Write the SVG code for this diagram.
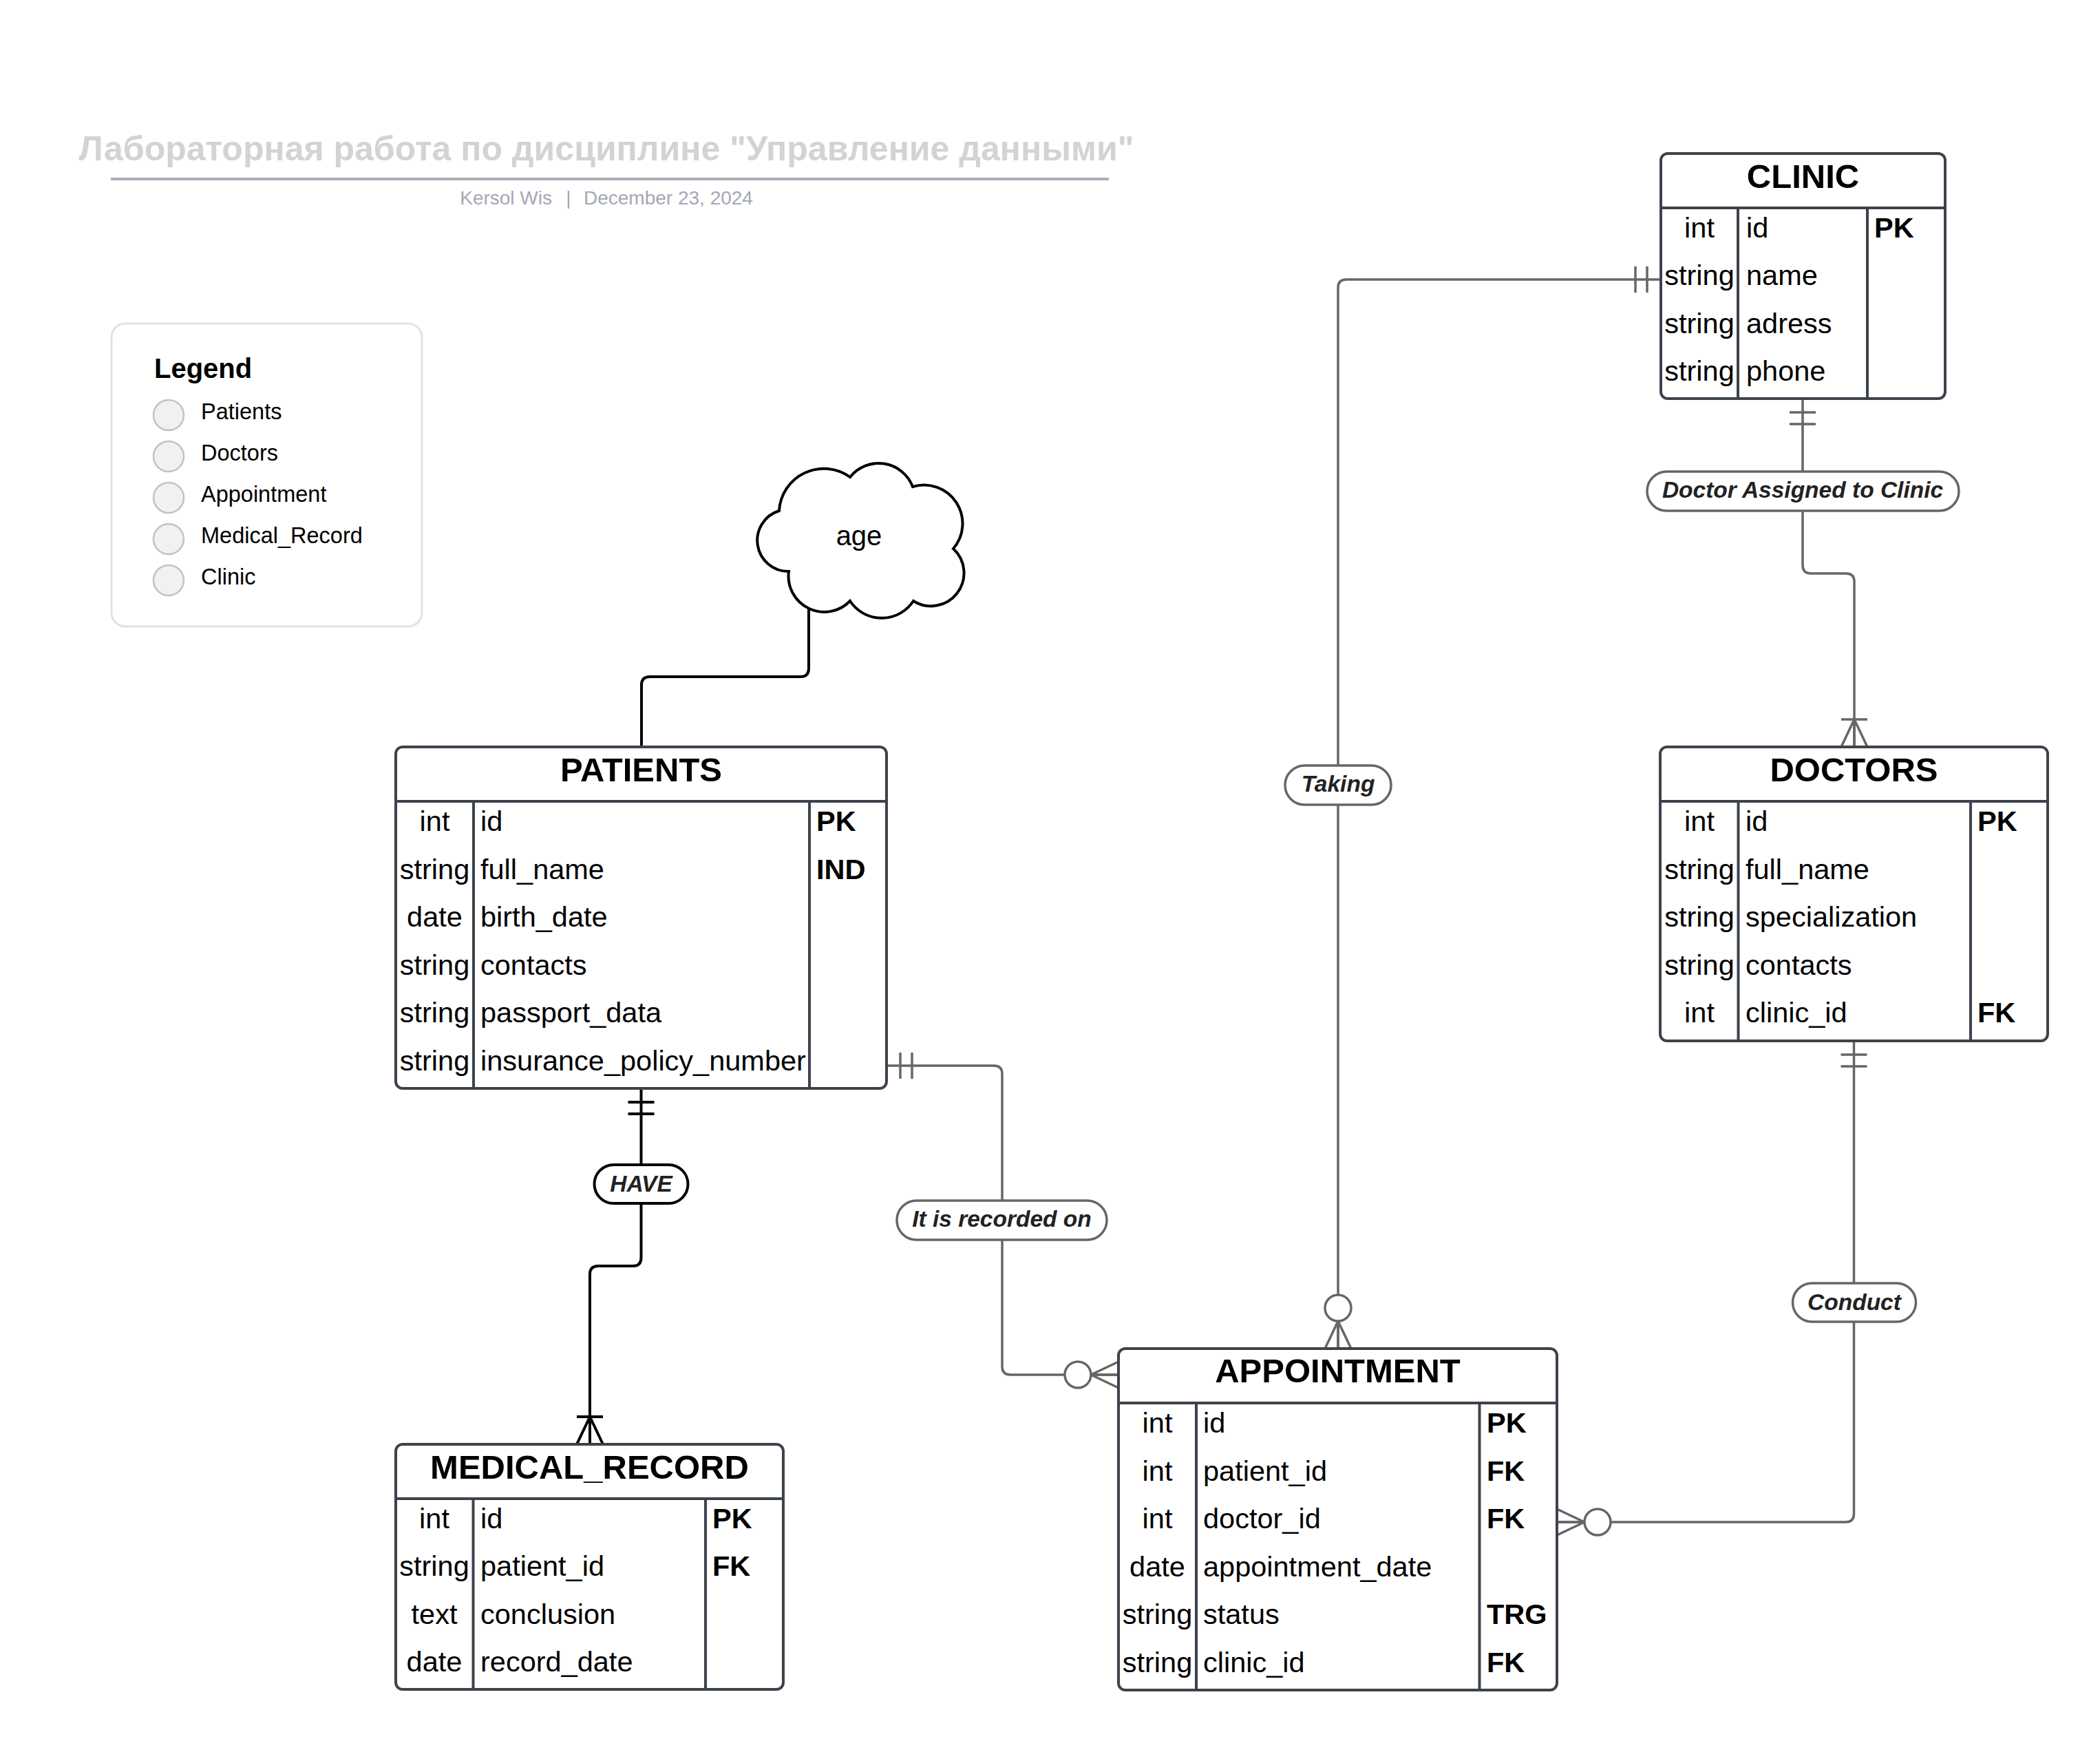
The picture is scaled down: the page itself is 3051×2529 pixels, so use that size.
<svg xmlns="http://www.w3.org/2000/svg" xmlns:xlink="http://www.w3.org/1999/xlink" width="3051" height="2529" viewBox="0 0 3051 2529">
<style>
text{font-family:"Liberation Sans",Arial,sans-serif;}
.title{font-size:50px;font-weight:bold;fill:#d3d3d3;}
.sub{font-size:28px;fill:#a3a8b3;}
.lgtitle{font-size:40px;font-weight:bold;fill:#000;}
.lgitem{font-size:32.5px;fill:#000;}
.lgdot{fill:#f0f1f3;stroke:#c2c2c2;stroke-width:2.5;}
.tbl{fill:#fff;stroke:#3d434c;stroke-width:4;}
.sep{stroke:#3d434c;stroke-width:4;}
.th{font-size:49px;font-weight:bold;text-anchor:middle;fill:#000;}
.ty{font-size:41.5px;text-anchor:middle;fill:#000;}
.nm{font-size:41.5px;fill:#000;}
.ky{font-size:41.5px;font-weight:bold;fill:#000;}
.conn{fill:none;stroke:#666;stroke-width:3.5;}
.connb{fill:none;stroke:#000;stroke-width:4;}
.pill{fill:#fff;stroke:#666;stroke-width:3.5;}
.pillb{fill:#fff;stroke:#000;stroke-width:4;}
.lbl{font-size:33.5px;font-weight:bold;font-style:italic;text-anchor:middle;fill:#222;}
.cloud{fill:#fff;stroke:#000;stroke-width:4;}
.age{font-size:40px;text-anchor:middle;fill:#000;}
</style>
<defs>
<g id="m-one" fill="none">
<line x1="20" y1="-19" x2="20" y2="19"/>
<line x1="37" y1="-19" x2="37" y2="19"/>
</g>
<g id="m-onemany" fill="none">
<line x1="40" y1="-19" x2="40" y2="19"/>
<line x1="40" y1="0" x2="0" y2="-19"/>
<line x1="40" y1="0" x2="0" y2="19"/>
<line x1="40" y1="0" x2="0" y2="0"/>
</g>
<g id="m-zeromany">
<line x1="40" y1="0" x2="0" y2="-19" fill="none"/>
<line x1="40" y1="0" x2="0" y2="19" fill="none"/>
<line x1="40" y1="0" x2="0" y2="0" fill="none"/>
<circle cx="59" cy="0" r="19" fill="#fff"/>
</g>
</defs>
<rect width="3051" height="2529" fill="#fff"/>

<g id="header">
<text class="title" x="881" y="233" text-anchor="middle">Лабораторная работа по дисциплине "Управление данными"</text>
<line x1="161" y1="260" x2="1611" y2="260" stroke="#a9aeb8" stroke-width="4"/>
<text class="sub" x="802" y="297" text-anchor="end">Kersol Wis</text>
<text class="sub" x="826" y="297" text-anchor="middle">|</text>
<text class="sub" x="848" y="297">December 23, 2024</text>
</g>

<g id="legend">
<rect x="162" y="470" width="451" height="440" rx="20" fill="#fff" stroke="#dfe2e6" stroke-width="3"/>
<text class="lgtitle" x="224" y="549">Legend</text>
<circle class="lgdot" cx="245" cy="603" r="22"/>
<text class="lgitem" x="292" y="609">Patients</text>
<circle class="lgdot" cx="245" cy="663" r="22"/>
<text class="lgitem" x="292" y="669">Doctors</text>
<circle class="lgdot" cx="245" cy="723" r="22"/>
<text class="lgitem" x="292" y="729">Appointment</text>
<circle class="lgdot" cx="245" cy="783" r="22"/>
<text class="lgitem" x="292" y="789">Medical_Record</text>
<circle class="lgdot" cx="245" cy="843" r="22"/>
<text class="lgitem" x="292" y="849">Clinic</text>
</g>

<g id="connectors">
<!-- age -> patients -->
<path class="connb" d="M1175 880 V971 Q1175 983 1163 983 H944 Q932 983 932 995 V1085"/>
<!-- patients -> medical_record (HAVE) -->
<path class="connb" d="M931.5 1581 V1827 Q931.5 1839 919.5 1839 H869 Q857 1839 857 1851 V2098"/>
<use xlink:href="#m-one" transform="translate(931.5,1581) rotate(90)" stroke="#000" stroke-width="4"/>
<use xlink:href="#m-onemany" transform="translate(857,2098) rotate(-90)" stroke="#000" stroke-width="4"/>
<!-- patients -> appointment (It is recorded on) -->
<path class="conn" d="M1288 1548 H1444 Q1456 1548 1456 1560 V1985 Q1456 1997 1468 1997 H1625"/>
<use xlink:href="#m-one" transform="translate(1288,1548)" stroke="#666" stroke-width="3.5"/>
<use xlink:href="#m-zeromany" transform="translate(1625,1997) rotate(180)" stroke="#666" stroke-width="3.5"/>
<!-- clinic -> appointment (Taking) -->
<path class="conn" d="M2413 406 H1956 Q1944 406 1944 418 V1959"/>
<use xlink:href="#m-one" transform="translate(2413,406) rotate(180)" stroke="#666" stroke-width="3.5"/>
<use xlink:href="#m-zeromany" transform="translate(1944,1959) rotate(-90)" stroke="#666" stroke-width="3.5"/>
<!-- clinic -> doctors -->
<path class="conn" d="M2619 579 V821 Q2619 833 2631 833 H2682 Q2694 833 2694 845 V1085"/>
<use xlink:href="#m-one" transform="translate(2619,579) rotate(90)" stroke="#666" stroke-width="3.5"/>
<use xlink:href="#m-onemany" transform="translate(2694,1085) rotate(-90)" stroke="#666" stroke-width="3.5"/>
<!-- doctors -> appointment (Conduct) -->
<path class="conn" d="M2693.5 1512 V2199 Q2693.5 2211 2681.5 2211 H2262"/>
<use xlink:href="#m-one" transform="translate(2693.5,1512) rotate(90)" stroke="#666" stroke-width="3.5"/>
<use xlink:href="#m-zeromany" transform="translate(2262,2211)" stroke="#666" stroke-width="3.5"/>
<!-- labels -->
<rect class="pill" x="1867" y="1112" width="154" height="57" rx="28.5"/>
<text class="lbl" x="1944" y="1150">Taking</text>
<rect class="pill" x="2393" y="685" width="453" height="57" rx="28.5"/>
<text class="lbl" x="2619" y="723">Doctor Assigned to Clinic</text>
<rect class="pill" x="1303" y="1744" width="305" height="57" rx="28.5"/>
<text class="lbl" x="1455.5" y="1782">It is recorded on</text>
<rect class="pillb" x="863.5" y="1692" width="136" height="56" rx="28"/>
<text class="lbl" x="931.5" y="1731" fill="#333">HAVE</text>
<rect class="pill" x="2604.5" y="1864" width="179" height="56" rx="28"/>
<text class="lbl" x="2694" y="1903">Conduct</text>
</g>

<g id="age">
<path class="cloud" d="M1132 742 A65 65 0 0 1 1235 693 A53 53 0 0 1 1326 707 A56 56 0 0 1 1385 797 A48 48 0 0 1 1327 873 A55 55 0 0 1 1235 873 A52 52 0 0 1 1146 830 A45 45 0 0 1 1132 742 Z"/>
<text class="age" x="1248" y="792">age</text>
</g>

<g id="clinic">
<rect class="tbl" x="2413" y="223" width="413" height="356" rx="10"/>
<line class="sep" x1="2413" y1="302" x2="2826" y2="302"/>
<line class="sep" x1="2525" y1="302" x2="2525" y2="579"/>
<line class="sep" x1="2713" y1="302" x2="2713" y2="579"/>
<text class="th" x="2619.5" y="273">CLINIC</text>
<text class="ty" x="2469" y="345">int</text><text class="nm" x="2537" y="345">id</text><text class="ky" x="2723" y="345">PK</text>
<text class="ty" x="2469" y="414">string</text><text class="nm" x="2537" y="414">name</text>
<text class="ty" x="2469" y="484">string</text><text class="nm" x="2537" y="484">adress</text>
<text class="ty" x="2469" y="553">string</text><text class="nm" x="2537" y="553">phone</text>
</g>

<g id="patients">
<rect class="tbl" x="575" y="1085" width="713" height="496" rx="10"/>
<line class="sep" x1="575" y1="1164" x2="1288" y2="1164"/>
<line class="sep" x1="688" y1="1164" x2="688" y2="1581"/>
<line class="sep" x1="1176" y1="1164" x2="1176" y2="1581"/>
<text class="th" x="931.5" y="1135">PATIENTS</text>
<text class="ty" x="631.5" y="1207">int</text><text class="nm" x="698" y="1207">id</text><text class="ky" x="1186" y="1207">PK</text>
<text class="ty" x="631.5" y="1276.5">string</text><text class="nm" x="698" y="1276.5">full_name</text><text class="ky" x="1186" y="1276.5">IND</text>
<text class="ty" x="631.5" y="1346">date</text><text class="nm" x="698" y="1346">birth_date</text>
<text class="ty" x="631.5" y="1415.5">string</text><text class="nm" x="698" y="1415.5">contacts</text>
<text class="ty" x="631.5" y="1485">string</text><text class="nm" x="698" y="1485">passport_data</text>
<text class="ty" x="631.5" y="1554.5">string</text><text class="nm" x="698" y="1554.5">insurance_policy_number</text>
</g>

<g id="doctors">
<rect class="tbl" x="2412" y="1085" width="563" height="427" rx="10"/>
<line class="sep" x1="2412" y1="1164" x2="2975" y2="1164"/>
<line class="sep" x1="2525.5" y1="1164" x2="2525.5" y2="1512"/>
<line class="sep" x1="2863" y1="1164" x2="2863" y2="1512"/>
<text class="th" x="2693.5" y="1135">DOCTORS</text>
<text class="ty" x="2469" y="1207">int</text><text class="nm" x="2536" y="1207">id</text><text class="ky" x="2873" y="1207">PK</text>
<text class="ty" x="2469" y="1276.6">string</text><text class="nm" x="2536" y="1276.6">full_name</text>
<text class="ty" x="2469" y="1346">string</text><text class="nm" x="2536" y="1346">specialization</text>
<text class="ty" x="2469" y="1416">string</text><text class="nm" x="2536" y="1416">contacts</text>
<text class="ty" x="2469" y="1485">int</text><text class="nm" x="2536" y="1485">clinic_id</text><text class="ky" x="2873" y="1485">FK</text>
</g>

<g id="medical_record">
<rect class="tbl" x="575" y="2098" width="563" height="356" rx="10"/>
<line class="sep" x1="575" y1="2177" x2="1138" y2="2177"/>
<line class="sep" x1="687.5" y1="2177" x2="687.5" y2="2454"/>
<line class="sep" x1="1025" y1="2177" x2="1025" y2="2454"/>
<text class="th" x="856.5" y="2148">MEDICAL_RECORD</text>
<text class="ty" x="631" y="2220">int</text><text class="nm" x="698" y="2220">id</text><text class="ky" x="1035" y="2220">PK</text>
<text class="ty" x="631" y="2289">string</text><text class="nm" x="698" y="2289">patient_id</text><text class="ky" x="1035" y="2289">FK</text>
<text class="ty" x="631" y="2358.5">text</text><text class="nm" x="698" y="2358.5">conclusion</text>
<text class="ty" x="631" y="2428">date</text><text class="nm" x="698" y="2428">record_date</text>
</g>

<g id="appointment">
<rect class="tbl" x="1625" y="1959" width="637" height="496" rx="10"/>
<line class="sep" x1="1625" y1="2038" x2="2262" y2="2038"/>
<line class="sep" x1="1738" y1="2038" x2="1738" y2="2455"/>
<line class="sep" x1="2149.5" y1="2038" x2="2149.5" y2="2455"/>
<text class="th" x="1943.5" y="2008">APPOINTMENT</text>
<text class="ty" x="1681.5" y="2081">int</text><text class="nm" x="1748" y="2081">id</text><text class="ky" x="2160" y="2081">PK</text>
<text class="ty" x="1681.5" y="2150.5">int</text><text class="nm" x="1748" y="2150.5">patient_id</text><text class="ky" x="2160" y="2150.5">FK</text>
<text class="ty" x="1681.5" y="2220">int</text><text class="nm" x="1748" y="2220">doctor_id</text><text class="ky" x="2160" y="2220">FK</text>
<text class="ty" x="1681.5" y="2289.5">date</text><text class="nm" x="1748" y="2289.5">appointment_date</text>
<text class="ty" x="1681.5" y="2359">string</text><text class="nm" x="1748" y="2359">status</text><text class="ky" x="2160" y="2359">TRG</text>
<text class="ty" x="1681.5" y="2428.5">string</text><text class="nm" x="1748" y="2428.5">clinic_id</text><text class="ky" x="2160" y="2428.5">FK</text>
</g>
</svg>
